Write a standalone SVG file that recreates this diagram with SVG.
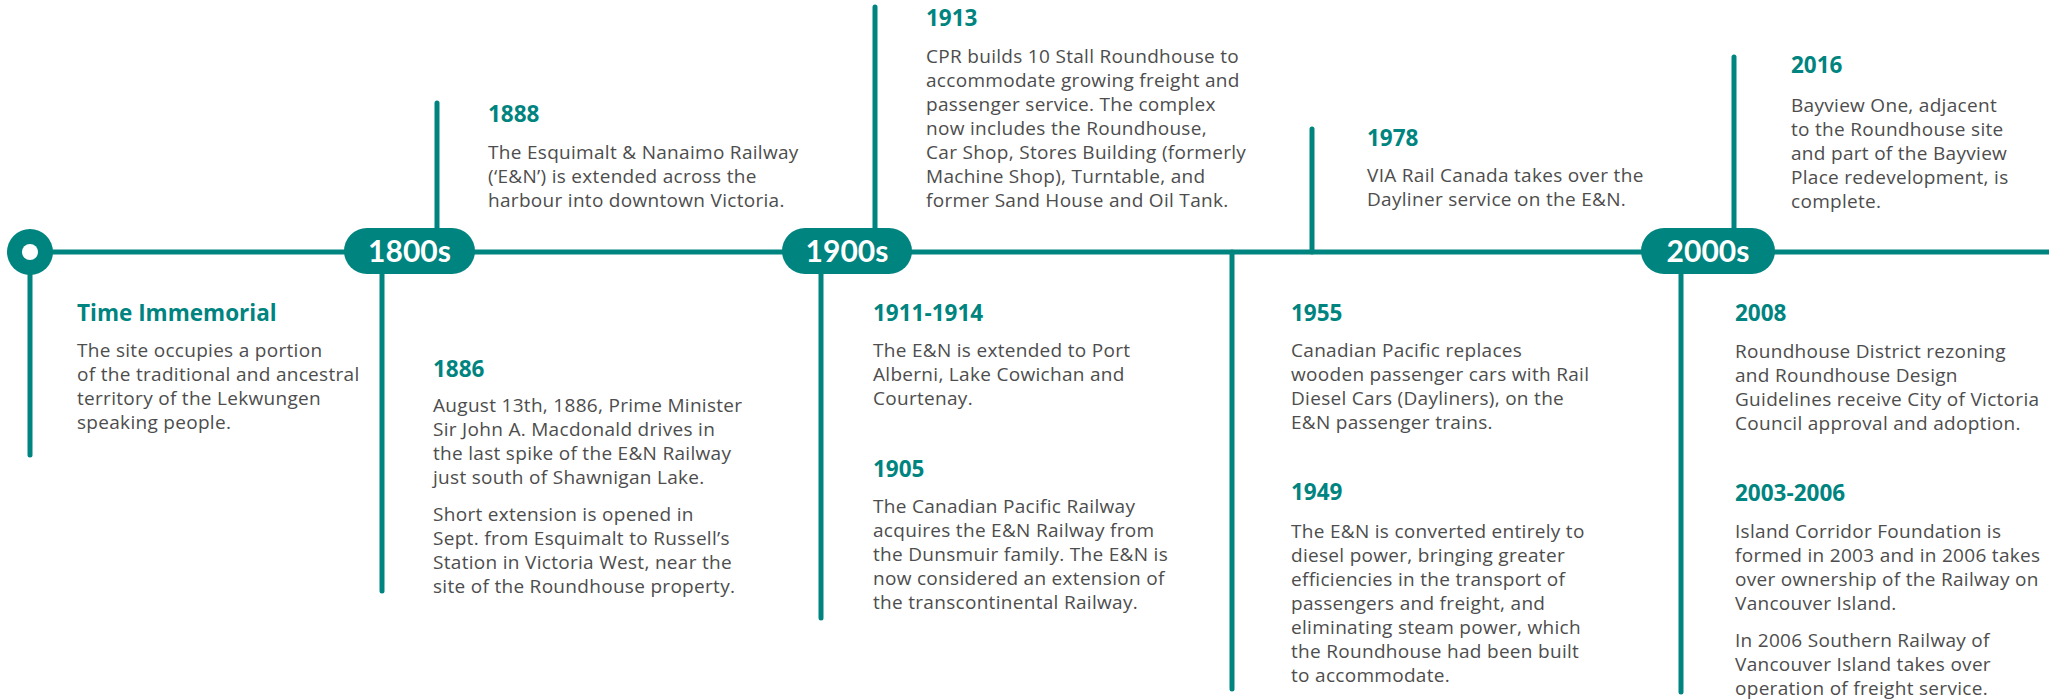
<svg xmlns="http://www.w3.org/2000/svg" width="2049" height="699" viewBox="0 0 2049 699">
  <style>
    .ln { stroke: #00847f; stroke-width: 5; stroke-linecap: round; fill: none; }
    .pill { fill: #00847f; }
    .era { font-family: Lato, "Open Sans", sans-serif; font-weight: 700; font-size: 30px; fill: #ffffff; text-anchor: middle; }
    .hd { font-family: "Open Sans", Lato, sans-serif; font-weight: 700; font-size: 22.5px; fill: #00847f; }
    .bd { font-family: "Open Sans", Lato, sans-serif; font-weight: 400; font-size: 19px; letter-spacing: 0.3px; fill: #4d4d4d; }
  </style>

  <!-- timeline spine and branch lines -->
  <g id="connectors">
    <line class="ln" x1="30" y1="252" x2="2049" y2="252"/>
    <line class="ln" x1="30" y1="252" x2="30" y2="455"/>
    <line class="ln" x1="437" y1="103" x2="437" y2="252"/>
    <line class="ln" x1="382" y1="252" x2="382" y2="591"/>
    <line class="ln" x1="875" y1="7" x2="875" y2="252"/>
    <line class="ln" x1="821" y1="252" x2="821" y2="618"/>
    <line class="ln" x1="1232" y1="252" x2="1232" y2="689"/>
    <line class="ln" x1="1312" y1="129" x2="1312" y2="252"/>
    <line class="ln" x1="1734" y1="57" x2="1734" y2="252"/>
    <line class="ln" x1="1681" y1="252" x2="1681" y2="692"/>
  </g>

  <!-- start marker -->
  <g id="start">
    <circle cx="30" cy="252" r="23" fill="#00847f"/>
    <circle cx="30" cy="252" r="8" fill="#ffffff"/>
  </g>

  <!-- era pills -->
  <g id="era-1800s">
    <rect class="pill" x="344" y="228" width="131" height="46" rx="23"/>
    <text class="era" x="409.5" y="262">1800s</text>
  </g>
  <g id="era-1900s">
    <rect class="pill" x="782" y="228" width="130" height="46" rx="23"/>
    <text class="era" x="847" y="262">1900s</text>
  </g>
  <g id="era-2000s">
    <rect class="pill" x="1641" y="228" width="134" height="46" rx="23"/>
    <text class="era" x="1708" y="262">2000s</text>
  </g>

  <!-- events -->
  <g id="ev-time-immemorial">
    <text class="hd" x="77" y="321">Time Immemorial</text>
    <text class="bd" x="77" y="357">The site occupies a portion</text>
    <text class="bd" x="77" y="381">of the traditional and ancestral</text>
    <text class="bd" x="77" y="405">territory of the Lekwungen</text>
    <text class="bd" x="77" y="429">speaking people.</text>
  </g>

  <g id="ev-1886">
    <text class="hd" x="433" y="377">1886</text>
    <text class="bd" x="433" y="412">August 13th, 1886, Prime Minister</text>
    <text class="bd" x="433" y="436">Sir John A. Macdonald drives in</text>
    <text class="bd" x="433" y="460">the last spike of the E&amp;N Railway</text>
    <text class="bd" x="433" y="484">just south of Shawnigan Lake.</text>
    <text class="bd" x="433" y="521">Short extension is opened in</text>
    <text class="bd" x="433" y="545">Sept. from Esquimalt to Russell’s</text>
    <text class="bd" x="433" y="569">Station in Victoria West, near the</text>
    <text class="bd" x="433" y="593">site of the Roundhouse property.</text>
  </g>

  <g id="ev-1888">
    <text class="hd" x="488" y="122">1888</text>
    <text class="bd" x="488" y="159">The Esquimalt &amp; Nanaimo Railway</text>
    <text class="bd" x="488" y="183">(‘E&amp;N’) is extended across the</text>
    <text class="bd" x="488" y="207">harbour into downtown Victoria.</text>
  </g>

  <g id="ev-1913">
    <text class="hd" x="926" y="26">1913</text>
    <text class="bd" x="926" y="63">CPR builds 10 Stall Roundhouse to</text>
    <text class="bd" x="926" y="87">accommodate growing freight and</text>
    <text class="bd" x="926" y="111">passenger service. The complex</text>
    <text class="bd" x="926" y="135">now includes the Roundhouse,</text>
    <text class="bd" x="926" y="159">Car Shop, Stores Building (formerly</text>
    <text class="bd" x="926" y="183">Machine Shop), Turntable, and</text>
    <text class="bd" x="926" y="207">former Sand House and Oil Tank.</text>
  </g>

  <g id="ev-1911-1914">
    <text class="hd" x="873" y="321">1911-1914</text>
    <text class="bd" x="873" y="357">The E&amp;N is extended to Port</text>
    <text class="bd" x="873" y="381">Alberni, Lake Cowichan and</text>
    <text class="bd" x="873" y="405">Courtenay.</text>
  </g>

  <g id="ev-1905">
    <text class="hd" x="873" y="477">1905</text>
    <text class="bd" x="873" y="513">The Canadian Pacific Railway</text>
    <text class="bd" x="873" y="537">acquires the E&amp;N Railway from</text>
    <text class="bd" x="873" y="561">the Dunsmuir family. The E&amp;N is</text>
    <text class="bd" x="873" y="585">now considered an extension of</text>
    <text class="bd" x="873" y="609">the transcontinental Railway.</text>
  </g>

  <g id="ev-1978">
    <text class="hd" x="1367" y="146">1978</text>
    <text class="bd" x="1367" y="182">VIA Rail Canada takes over the</text>
    <text class="bd" x="1367" y="206">Dayliner service on the E&amp;N.</text>
  </g>

  <g id="ev-1955">
    <text class="hd" x="1291" y="321">1955</text>
    <text class="bd" x="1291" y="357">Canadian Pacific replaces</text>
    <text class="bd" x="1291" y="381">wooden passenger cars with Rail</text>
    <text class="bd" x="1291" y="405">Diesel Cars (Dayliners), on the</text>
    <text class="bd" x="1291" y="429">E&amp;N passenger trains.</text>
  </g>

  <g id="ev-1949">
    <text class="hd" x="1291" y="500">1949</text>
    <text class="bd" x="1291" y="538">The E&amp;N is converted entirely to</text>
    <text class="bd" x="1291" y="562">diesel power, bringing greater</text>
    <text class="bd" x="1291" y="586">efficiencies in the transport of</text>
    <text class="bd" x="1291" y="610">passengers and freight, and</text>
    <text class="bd" x="1291" y="634">eliminating steam power, which</text>
    <text class="bd" x="1291" y="658">the Roundhouse had been built</text>
    <text class="bd" x="1291" y="682">to accommodate.</text>
  </g>

  <g id="ev-2016">
    <text class="hd" x="1791" y="73">2016</text>
    <text class="bd" x="1791" y="112">Bayview One, adjacent</text>
    <text class="bd" x="1791" y="136">to the Roundhouse site</text>
    <text class="bd" x="1791" y="160">and part of the Bayview</text>
    <text class="bd" x="1791" y="184">Place redevelopment, is</text>
    <text class="bd" x="1791" y="208">complete.</text>
  </g>

  <g id="ev-2008">
    <text class="hd" x="1735" y="321">2008</text>
    <text class="bd" x="1735" y="358">Roundhouse District rezoning</text>
    <text class="bd" x="1735" y="382">and Roundhouse Design</text>
    <text class="bd" x="1735" y="406">Guidelines receive City of Victoria</text>
    <text class="bd" x="1735" y="430">Council approval and adoption.</text>
  </g>

  <g id="ev-2003-2006">
    <text class="hd" x="1735" y="501">2003-2006</text>
    <text class="bd" x="1735" y="538">Island Corridor Foundation is</text>
    <text class="bd" x="1735" y="562">formed in 2003 and in 2006 takes</text>
    <text class="bd" x="1735" y="586">over ownership of the Railway on</text>
    <text class="bd" x="1735" y="610">Vancouver Island.</text>
    <text class="bd" x="1735" y="647">In 2006 Southern Railway of</text>
    <text class="bd" x="1735" y="671">Vancouver Island takes over</text>
    <text class="bd" x="1735" y="695">operation of freight service.</text>
  </g>
</svg>
